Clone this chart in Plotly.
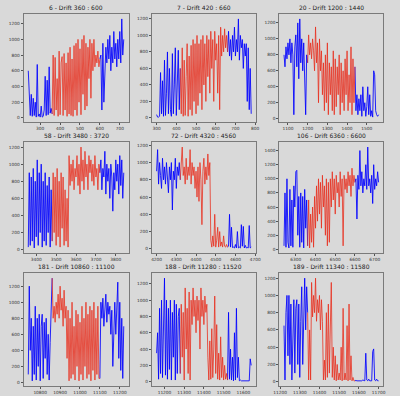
import numpy as np
import plotly.graph_objects as go

titles = ["6 - Drift 360 : 600", "7 - Drift 420 : 660", "20 - Drift 1200 : 1440",
          "58 - Drift 3480 : 3720", "72 - Drift 4320 : 4560", "106 - Drift 6360 : 6600",
          "181 - Drift 10860 : 11100", "188 - Drift 11280 : 11520", "189 - Drift 11340 : 11580"]
drift_start = [360, 420, 1200, 3480, 4320, 6360, 10860, 11280, 11340]
drift_end = [600, 660, 1440, 3720, 4560, 6600, 11100, 11520, 11580]
window = 120  # samples shown before and after the drift

v6 = [600, 200, 30, 300, 20, 250, 30, 200, 10, 680, 20, 50, 10, 150, 10, 20, 100, 530, 30, 480, 40, 650, 60, 120,
      50, 800, 30, 770, 100, 500, 20, 850, 40, 700, 780, 30, 820, 100, 700, 20, 830, 50, 900, 30, 750, 20, 920, 100,
      950, 30, 1000, 200, 880, 40, 1000, 300, 1050, 100, 950, 150, 900, 500, 1000, 250, 950, 600, 1000, 650, 800, 700,
      850, 650, 750,
      800, 100, 950, 200, 600, 900, 700, 1000, 750, 1050, 600, 900, 700, 1100, 750, 950, 650, 1000, 750, 1100, 700, 1260, 800, 1000]
v7 = [40, 10, 10, 20, 550, 50, 450, 20, 700, 30, 300, 800, 50, 600, 100, 20, 780, 50, 400, 850, 30, 500, 820, 100,
      600, 50, 850, 20, 700, 30, 500, 900, 20, 750, 100, 880, 30, 950, 200, 900, 50, 1000, 150, 900, 300, 950, 100, 1000,
      400, 900, 200, 1000, 500, 950, 300, 1050, 600, 950, 200, 1050, 700, 900, 300, 1000, 100, 1100, 750, 1000, 800, 1080,
      850, 1000, 800,
      1050, 750, 950, 700, 1000, 800, 1100, 750, 950, 800, 1200, 700, 1000, 850, 950, 600, 900, 750, 900, 200, 850, 100, 600, 50]
v20 = [800, 650, 900, 750, 950, 800, 1000, 700, 950, 800, 50, 900, 1050, 650, 1200, 500, 1250, 700, 1000, 600, 950, 550, 50, 800,
       700, 1050, 800, 950, 750, 1000, 850, 600, 1150, 700, 950, 200, 1000, 600, 850, 300, 700, 100, 800, 200, 950, 50, 700, 300,
       650, 100, 850, 50, 750, 150, 650, 300, 800, 50, 700, 200, 600, 100, 750, 300, 850, 100, 550, 200, 900, 50,
       750, 200, 650,
       100, 300, 50, 250, 100, 300, 30, 400, 100, 200, 30, 150, 400, 50, 300, 30, 100, 20, 600, 550, 100, 50, 30, 50]
v58 = [30, 900, 50, 850, 100, 950, 20, 800, 150, 1050, 50, 900, 200, 1000, 30, 800, 100, 900, 50, 750, 200, 850, 30, 700,
       100, 900, 200, 850, 50, 950, 150, 800, 30, 900, 250, 850, 50, 700, 100, 600, 30, 1100, 750, 1000, 800, 1050, 700, 950,
       850, 1100, 750, 1000, 650, 1200, 800, 1050, 700, 1150, 850, 1000, 700, 1100, 900, 1050, 800, 1000, 750, 1100, 850, 950,
       700, 1000, 900,
       1050, 700, 950, 850, 1150, 650, 1000, 800, 950, 600, 1000, 850, 450, 900, 700, 1050, 800, 1000, 650, 1100, 750, 1050, 600, 900]
v72 = [900, 1150, 750, 1000, 850, 700, 1050, 800, 950, 750, 1000, 850, 650, 950, 800, 1000, 450, 900, 800, 1050, 700, 950, 850, 1000,
       800, 1000, 1180, 850, 950, 750, 1050, 800, 950, 850, 1150, 750, 1000, 850, 950, 700, 900, 600, 950, 550, 1000, 800, 280, 900,
       1050, 750, 950, 800, 1100, 850, 1000, 100, 20, 150, 30, 400, 20, 100, 250, 20, 200, 30, 80, 20, 150, 30,
       20, 50, 20,
       30, 400, 20, 250, 15, 20, 10, 50, 10, 200, 10, 20, 10, 280, 30, 260, 10, 40, 10, 15, 10, 270, 10, 20]
v106 = [50, 800, 30, 1000, 100, 20, 850, 50, 700, 30, 900, 600, 1100, 1120, 200, 750, 30, 800, 100, 750, 20, 850, 300, 700,
        50, 700, 20, 500, 100, 600, 30, 750, 300, 900, 400, 1000, 500, 950, 300, 1050, 600, 900, 200, 1000, 50, 950, 100, 1000,
        600, 1100, 700, 1000, 500, 1050, 800, 950, 600, 1100, 750, 1000, 50, 1050, 850, 1000, 800, 1100, 900, 1050, 750, 1150,
        900, 1050, 950,
        1000, 430, 1050, 850, 1400, 900, 1100, 800, 1000, 900, 1200, 850, 1450, 900, 1000, 800, 1050, 650, 1200, 850, 1000, 900, 1100, 950]
v181 = [100, 1200, 400, 800, 20, 700, 100, 950, 30, 800, 200, 850, 20, 700, 850, 50, 750, 300, 800, 100, 600, 30, 500, 850,
        1300, 800, 950, 750, 1000, 850, 1100, 800, 1200, 900, 1050, 700, 1150, 800, 950, 300, 900, 20, 800, 50, 1000, 100, 700, 30,
        900, 200, 850, 20, 750, 100, 950, 30, 800, 200, 1000, 50, 850, 100, 950, 20, 900, 150, 1000, 30, 800, 100,
        950, 50, 50,
        1000, 800, 1050, 700, 950, 1100, 750, 1000, 850, 950, 600, 900, 200, 800, 1000, 600, 900, 1250, 300, 1000, 150, 800, 50, 700]
v188 = [350, 600, 30, 900, 100, 1000, 50, 800, 1270, 80, 1000, 30, 900, 150, 1000, 20, 850, 300, 1000, 20, 950, 100, 800, 900,
        100, 950, 300, 850, 20, 1150, 400, 900, 100, 1100, 20, 1000, 700, 1150, 800, 1000, 600, 1050, 750, 1000, 400, 1150, 800, 1000,
        700, 1050, 850, 950, 300, 20, 500, 30, 650, 50, 400, 1050, 100, 700, 30, 350, 20, 550, 50, 300, 20, 200,
        30, 100, 20,
        850, 30, 400, 20, 300, 10, 600, 20, 900, 50, 300, 10, 20, 10, 10, 15, 10, 10, 10, 15, 10, 10, 280, 200]
v189 = [650, 20, 800, 1000, 300, 1000, 200, 900, 20, 700, 950, 100, 850, 950, 200, 900, 50, 700, 1100, 200, 1000, 1200, 600, 1100,
        800, 20, 600, 20, 1150, 750, 1000, 800, 1200, 700, 950, 800, 1000, 600, 950, 700, 20, 250, 20, 800, 50, 900, 100, 600,
        1150, 50, 400, 20, 300, 10, 200, 20, 100, 20, 400, 10, 850, 20, 100, 20, 650, 10, 900, 20, 300, 10,
        50, 10, 10,
        15, 10, 10, 10, 15, 10, 10, 20, 10, 10, 330, 20, 10, 30, 10, 10, 10, 350, 380, 20, 10, 30, 10, 10]

series = [v6, v7, v20, v58, v72, v106, v181, v188, v189]

BLUE = "rgba(0,0,255,0.85)"
RED = "rgba(232,45,28,0.78)"
BG = "#d9d9d9"

col_dom = [(0.045, 0.315), (0.375, 0.6425), (0.7025, 0.97)]
row_dom = [(0.6919, 0.9646), (0.3611, 0.6414), (0.0253, 0.3106)]

fig = go.Figure()
annotations = []
for k, vals in enumerate(series):
    r, c = divmod(k, 3)
    ds, de = drift_start[k], drift_end[k]
    x0, x1 = ds - window, de + window
    x = np.linspace(x0, x1, len(vals))
    y = np.array(vals, dtype=float)
    ax = "" if k == 0 else str(k + 1)
    pre = x <= ds
    mid = (x >= ds) & (x <= de)
    post = x >= de
    for mask, colr in [(pre, BLUE), (post, BLUE), (mid, RED)]:
        fig.add_trace(go.Scatter(x=x[mask], y=y[mask], mode="lines",
                                 line=dict(color=colr, width=1),
                                 xaxis="x" + ax, yaxis="y" + ax, showlegend=False,
                                 hoverinfo="skip"))
    xpad = 0.05 * (x1 - x0)
    ypad = 0.05 * (y.max() - y.min())
    common = dict(showgrid=False, zeroline=False, showline=True, mirror=True,
                  linecolor="#7a7a7a", linewidth=1, ticks="outside", ticklen=2,
                  tickcolor="#555", tickformat="d",
                  tickfont=dict(size=4.3, color="#333", family="DejaVu Sans"))
    fig.update_layout(**{
        "xaxis" + ax: dict(domain=col_dom[c], anchor="y" + ax, range=[x0 - xpad, x1 + xpad],
                           dtick=100, **common),
        "yaxis" + ax: dict(domain=row_dom[r], anchor="x" + ax,
                           range=[y.min() - ypad, y.max() + ypad], dtick=200, **common),
    })
    annotations.append(dict(text=titles[k], xref="paper", yref="paper",
                            x=(col_dom[c][0] + col_dom[c][1]) / 2, y=row_dom[r][1] + 0.003,
                            xanchor="center", yanchor="bottom", showarrow=False,
                            font=dict(size=6, color="#222", family="DejaVu Sans")))

fig.update_layout(width=400, height=396, margin=dict(l=0, r=0, t=0, b=0),
                  paper_bgcolor=BG, plot_bgcolor=BG, annotations=annotations)
fig.write_html("out.html", config={"displayModeBar": False},
               post_script="document.body.style.margin='0';")
